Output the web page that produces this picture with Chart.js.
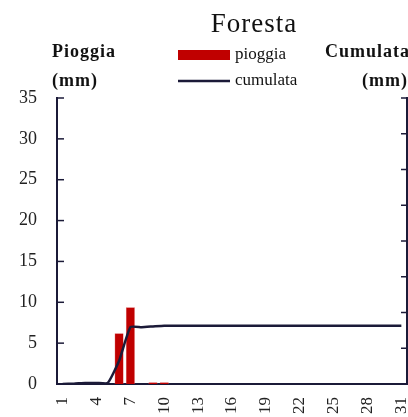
<!DOCTYPE html>
<html>
<head>
<meta charset="utf-8">
<script src="https://cdn.jsdelivr.net/npm/chart.js@4.4.1/dist/chart.umd.min.js"></script>
<style>
    html, body { margin: 0; padding: 0; background: #fff; }
    #wrap { position: relative; width: 408px; height: 417px; }
</style>
</head>
<body>
<div id="wrap"><canvas id="chart" width="408" height="417"></canvas></div>
<script>
// giorni del mese
const days = Array.from({ length: 31 }, (_, i) => String(i + 1));

// pioggia giornaliera (mm)
const pioggia = [0, 0.1, 0.2, 0, 0, 6.2, 9.4, 0, 0.2, 0.2, 0, 0, 0, 0, 0, 0, 0, 0, 0, 0, 0, 0, 0, 0, 0, 0, 0, 0, 0, 0, 0];

// pioggia cumulata (mm)
const cumulata = [0, 0.1, 0.3, 0.3, 0.3, 6.5, 15.9, 15.9, 16.1, 16.3, 16.3, 16.3, 16.3, 16.3, 16.3, 16.3,
    16.3, 16.3, 16.3, 16.3, 16.3, 16.3, 16.3, 16.3, 16.3, 16.3, 16.3, 16.3, 16.3, 16.3, 16.3];

const titleText = 'Foresta';
const leftTitle = ['Pioggia', '(mm)'];
const rightTitle = ['Cumulata', '(mm)'];
const legendLabels = ['pioggia', 'cumulata'];

const FONT = '"Liberation Serif", "DejaVu Serif", serif';
const NAVY = '#1b1a38';
const RED = '#c00000';

/**
 * Draw the title, the axis captions, the legend and the inward tick marks.
 */
const decorations = {
    id: 'decorations',
    afterDraw(chart) {
        const { ctx, scales } = chart;
        ctx.save();

        // inward ticks on both value axes
        ctx.strokeStyle = NAVY;
        ctx.lineWidth = 1.5;
        scales.y.ticks.forEach((t, i) => {
            const py = scales.y.getPixelForTick(i);
            ctx.beginPath();
            ctx.moveTo(scales.y.right, py);
            ctx.lineTo(scales.y.right + 7, py);
            ctx.stroke();
        });
        scales.y1.ticks.forEach((t, i) => {
            const py = scales.y1.getPixelForTick(i);
            ctx.beginPath();
            ctx.moveTo(scales.y1.left, py);
            ctx.lineTo(scales.y1.left - 6, py);
            ctx.stroke();
        });

        ctx.fillStyle = '#111';
        ctx.textBaseline = 'alphabetic';

        // title
        ctx.letterSpacing = '1px';
        ctx.font = `27px ${FONT}`;
        ctx.textAlign = 'center';
        ctx.fillText(titleText, 254, 32);

        // axis captions
        ctx.font = `bold 18px ${FONT}`;
        ctx.textAlign = 'left';
        ctx.fillText(leftTitle[0], 52, 57);
        ctx.fillText(leftTitle[1], 52, 86);
        ctx.textAlign = 'right';
        ctx.fillText(rightTitle[0], 410, 57);
        ctx.fillText(rightTitle[1], 408, 86);

        // legend
        ctx.letterSpacing = '0px';
        ctx.fillStyle = RED;
        ctx.fillRect(178, 50, 52, 10);
        ctx.strokeStyle = NAVY;
        ctx.lineWidth = 2.5;
        ctx.beginPath();
        ctx.moveTo(178, 81);
        ctx.lineTo(230, 81);
        ctx.stroke();
        ctx.fillStyle = '#111';
        ctx.font = `17px ${FONT}`;
        ctx.textAlign = 'left';
        ctx.fillText(legendLabels[0], 235, 59);
        ctx.fillText(legendLabels[1], 235, 85);

        ctx.restore();
    }
};

new Chart(document.getElementById('chart'), {
    data: {
        labels: days,
        datasets: [
            {
                type: 'line',
                label: legendLabels[1],
                data: cumulata,
                yAxisID: 'y1',
                borderColor: NAVY,
                borderWidth: 2.5,
                pointRadius: 0,
                tension: 0.15,
                order: 0
            },
            {
                type: 'bar',
                label: legendLabels[0],
                data: pioggia,
                yAxisID: 'y',
                backgroundColor: RED,
                borderColor: '#e06060',
                borderWidth: 0.5,
                barPercentage: 0.8,
                categoryPercentage: 1,
                order: 1
            }
        ]
    },
    options: {
        responsive: false,
        animation: false,
        layout: { padding: { top: 98, right: 0, left: 0, bottom: 0 } },
        plugins: {
            legend: { display: false },
            title: { display: false },
            tooltip: { enabled: false }
        },
        scales: {
            x: {
                offset: true,
                grid: { display: false, drawTicks: false },
                border: { display: true, color: NAVY, width: 2 },
                afterFit: (s) => {
                    s.height = 33;
                    s.paddingLeft = 0;
                    s.paddingRight = 0;
                },
                ticks: {
                    autoSkip: false,
                    maxRotation: 90,
                    minRotation: 90,
                    padding: 13,
                    color: '#222',
                    font: { family: FONT, size: 17 },
                    callback: (v, i) => (i % 3 === 0 ? days[i] : '')
                }
            },
            y: {
                position: 'left',
                min: 0,
                max: 35,
                grid: { display: false, drawTicks: false },
                border: { display: true, color: NAVY, width: 2 },
                afterFit: (s) => { s.width = 57; },
                ticks: {
                    stepSize: 5,
                    padding: 20,
                    color: '#222',
                    font: { family: FONT, size: 18 }
                }
            },
            y1: {
                position: 'right',
                min: 0,
                max: 80,
                grid: { display: false, drawTicks: false },
                border: { display: true, color: NAVY, width: 2 },
                afterFit: (s) => { s.width = 1; },
                ticks: { stepSize: 10, display: false }
            }
        }
    },
    plugins: [decorations]
});
</script>
</body>
</html>
